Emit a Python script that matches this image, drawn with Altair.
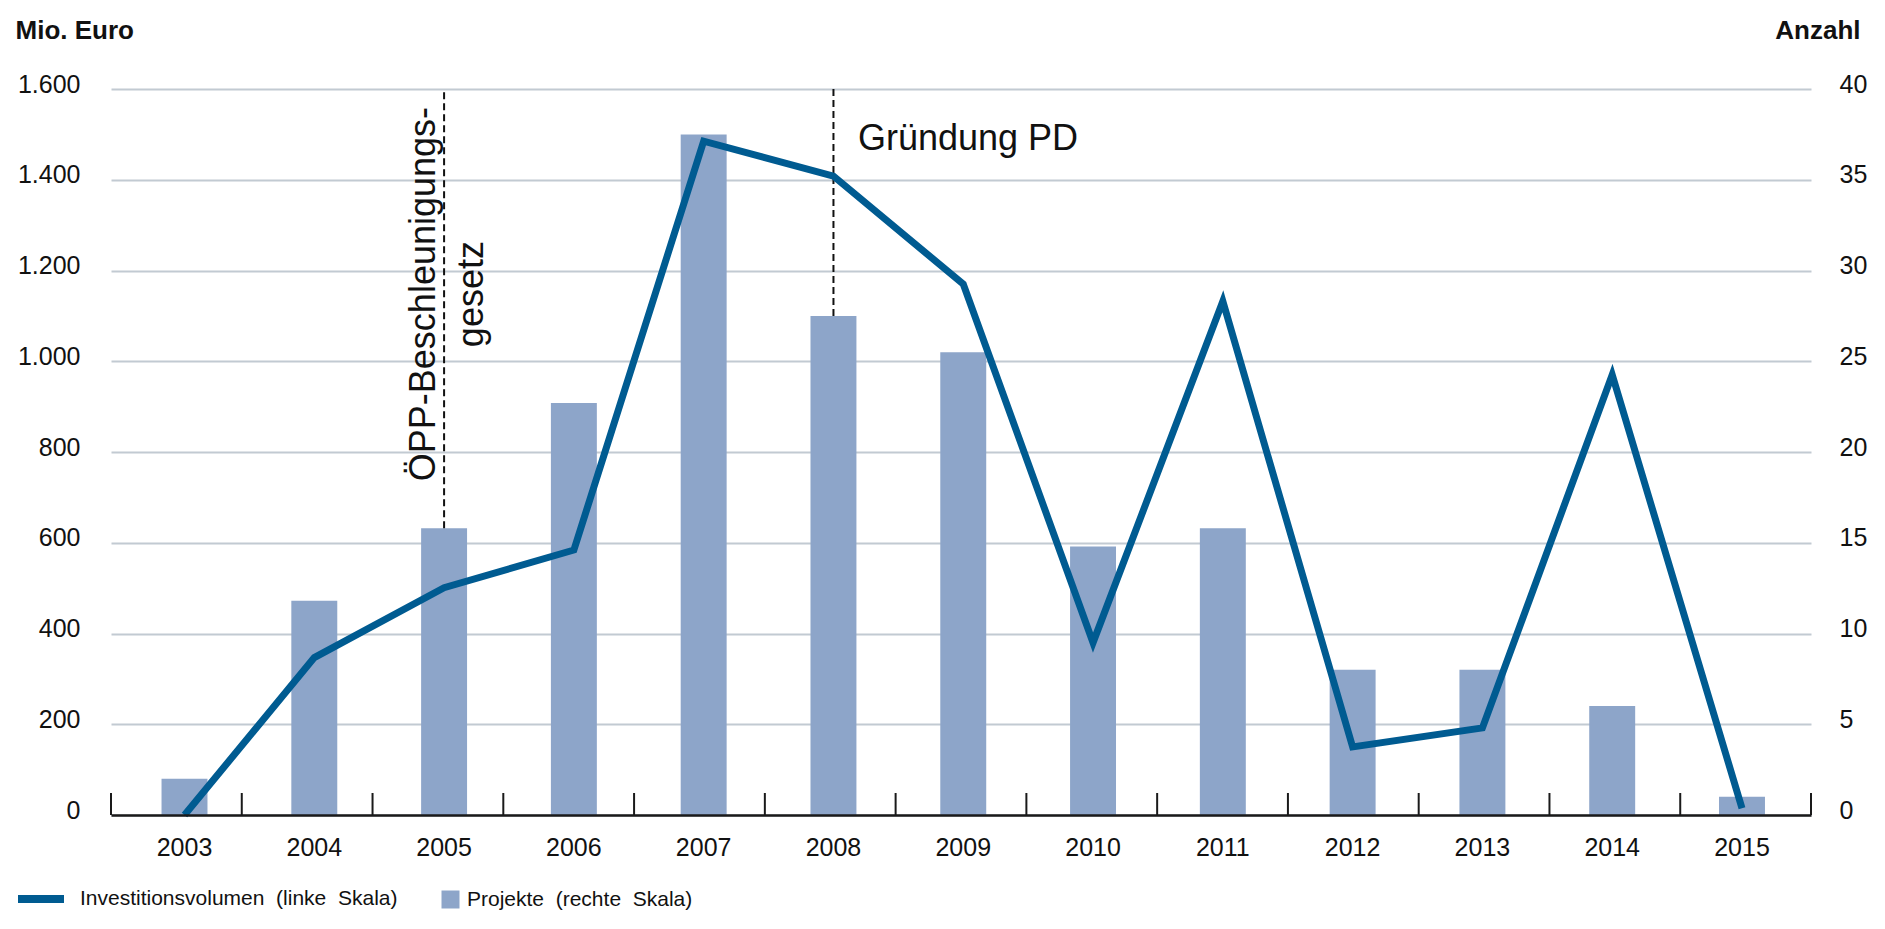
import altair as alt
import pandas as pd

# ---------------- data ----------------
jahre = ["2003", "2004", "2005", "2006", "2007", "2008", "2009",
         "2010", "2011", "2012", "2013", "2014", "2015"]
investitionsvolumen = [0, 347, 501, 584, 1485, 1408, 1170, 380, 1132, 150, 192, 970, 15]
projekte = [2, 11.8, 15.8, 22.7, 37.5, 27.5, 25.5, 14.8, 15.8, 8, 8, 6, 1]
links_werte = [0, 200, 400, 600, 800, 1000, 1200, 1400, 1600]
rechts_werte = [0, 5, 10, 15, 20, 25, 30, 35, 40]
serie_linie = "Investitionsvolumen\u00a0 (linke\u00a0 Skala)"
serie_balken = "Projekte\u00a0 (rechte\u00a0 Skala)"
annot_jahre = ["2005", "2008"]
annot_texte = ["ÖPP-Beschleunigungs-\ngesetz", "Gründung PD"]

df = pd.DataFrame({"jahr": jahre, "volumen": investitionsvolumen, "projekte": projekte})

LAB = "Liberation Sans, Arial, sans-serif"
ARIAL = "Liberation Sans, Arial, sans-serif"
LINE_C = "#005b91"
BAR_C = "#8da5c9"
GRID_C = "#c2cad2"
TXT_C = "#111111"

W, H = 1700, 726

x_scale = alt.Scale(domain=jahre, paddingInner=0, paddingOuter=0.049, align=0.677)
x_axis = alt.Axis(title=None, ticks=False, domain=True, domainColor="#1a1a1a",
                  domainWidth=2.5, labelFont=LAB, labelFontSize=25,
                  labelColor=TXT_C, labelPadding=20, labelAngle=0, grid=False,
                  zindex=1, orient="bottom")
x_enc = alt.X("jahr:N", scale=x_scale, axis=x_axis)

left_axis = alt.Axis(
    orient="left", title="Mio. Euro", titleAngle=0, titleAlign="left",
    titleBaseline="alphabetic", titleX=-96, titleY=-51, titleFont=LAB,
    titleFontSize=26, titleFontWeight="bold", titleColor=TXT_C,
    values=links_werte,
    labelExpr="replace(format(datum.value, ','), ',', '.')",
    labelFont=LAB, labelFontSize=25, labelColor=TXT_C, labelPadding=31,
    labelOffset=-5, domain=False, ticks=False, tickSize=0,
    grid=True, gridColor=GRID_C, gridWidth=2)

right_axis = alt.Axis(
    orient="right", title="Anzahl", titleAngle=0, titleAlign="right",
    titleBaseline="alphabetic", titleX=49, titleY=-51, titleFont=LAB,
    titleFontSize=26, titleFontWeight="bold", titleColor=TXT_C,
    values=rechts_werte, labelFont=LAB, labelFontSize=25, labelColor=TXT_C,
    labelPadding=28, labelOffset=-5, domain=False, ticks=False, tickSize=0,
    grid=False)

bars = alt.Chart(df).transform_calculate(
    serie="'" + serie_balken + "'"
).mark_bar(width=alt.RelativeBandSize(0.354)).encode(
    x=x_enc,
    y=alt.Y("projekte:Q", scale=alt.Scale(domain=[0, 40], nice=False), axis=right_axis),
    color=alt.Color("serie:N", scale=alt.Scale(domain=[serie_balken], range=[BAR_C]),
                    legend=alt.Legend(title=None, orient="none", legendX=329, legendY=800,
                                      symbolType="square", symbolSize=324,
                                      symbolStrokeWidth=0, symbolOpacity=1,
                                      labelFont=LAB, labelFontSize=21,
                                      labelColor=TXT_C, labelOffset=6, padding=0,
                                      labelLimit=0)),
)

dashed = alt.Chart(df).transform_filter(
    alt.FieldOneOfPredicate(field="jahr", oneOf=annot_jahre)
).mark_rule(color=TXT_C, strokeWidth=2, strokeDash=[7, 4]).encode(
    x=x_enc,
    y=alt.Y("projekte:Q"),
    y2=alt.datum(40),
)

txt_pd = alt.Chart(pd.DataFrame({"jahr": [annot_jahre[1]], "txt": [annot_texte[1]]})).mark_text(
    font=ARIAL, fontSize=36, align="left", baseline="alphabetic", dx=24.5, color=TXT_C
).encode(x=x_enc, y=alt.datum(36.64), text="txt:N")

txt_oepp = alt.Chart(pd.DataFrame({"jahr": [annot_jahre[0]], "txt": [annot_texte[0]]})).mark_text(
    font=ARIAL, fontSize=36, align="center", baseline="alphabetic", angle=270,
    lineBreak="\n", lineHeight=48, dy=-9, color=TXT_C
).encode(x=x_enc, y=alt.datum(28.7), text="txt:N")

line = alt.Chart(df).transform_calculate(
    serie="'" + serie_linie + "'"
).mark_line(strokeWidth=7, strokeJoin="miter").encode(
    x=x_enc,
    y=alt.Y("volumen:Q", scale=alt.Scale(domain=[0, 1600], nice=False), axis=left_axis),
    color=alt.Color("serie:N", scale=alt.Scale(domain=[serie_linie], range=[LINE_C]),
                    legend=alt.Legend(title=None, orient="none", legendX=-97, legendY=783,
                                      symbolType="stroke", symbolSize=2116,
                                      symbolStrokeWidth=8, labelFont=LAB,
                                      labelFontSize=21, labelColor=TXT_C,
                                      labelOffset=12, padding=0, labelLimit=0)),
)

tick_df = pd.DataFrame({"grenze": list(range(len(jahre) + 1))})
ticks = alt.Chart(tick_df).mark_rule(color="#1a1a1a", strokeWidth=2).encode(
    x=alt.X("grenze:Q", scale=alt.Scale(domain=[0, len(jahre)], nice=False, zero=False), axis=None),
    y=alt.value(H),
    y2=alt.value(H - 22),
)

right_group = alt.layer(bars, dashed, txt_pd, txt_oepp)
data_layer = alt.layer(right_group, line).resolve_scale(y="independent", color="independent")

chart = alt.layer(data_layer, ticks).resolve_scale(
    x="independent", y="independent", color="independent"
).properties(
    width=W, height=H,
    autosize=alt.AutoSizeParams(type="none"),
    padding={"left": 103, "top": 81, "right": 66, "bottom": 103},
    background="white",
).configure_view(stroke="transparent")

chart.save("out.html", embed_options={"renderer": "svg", "actions": False})
